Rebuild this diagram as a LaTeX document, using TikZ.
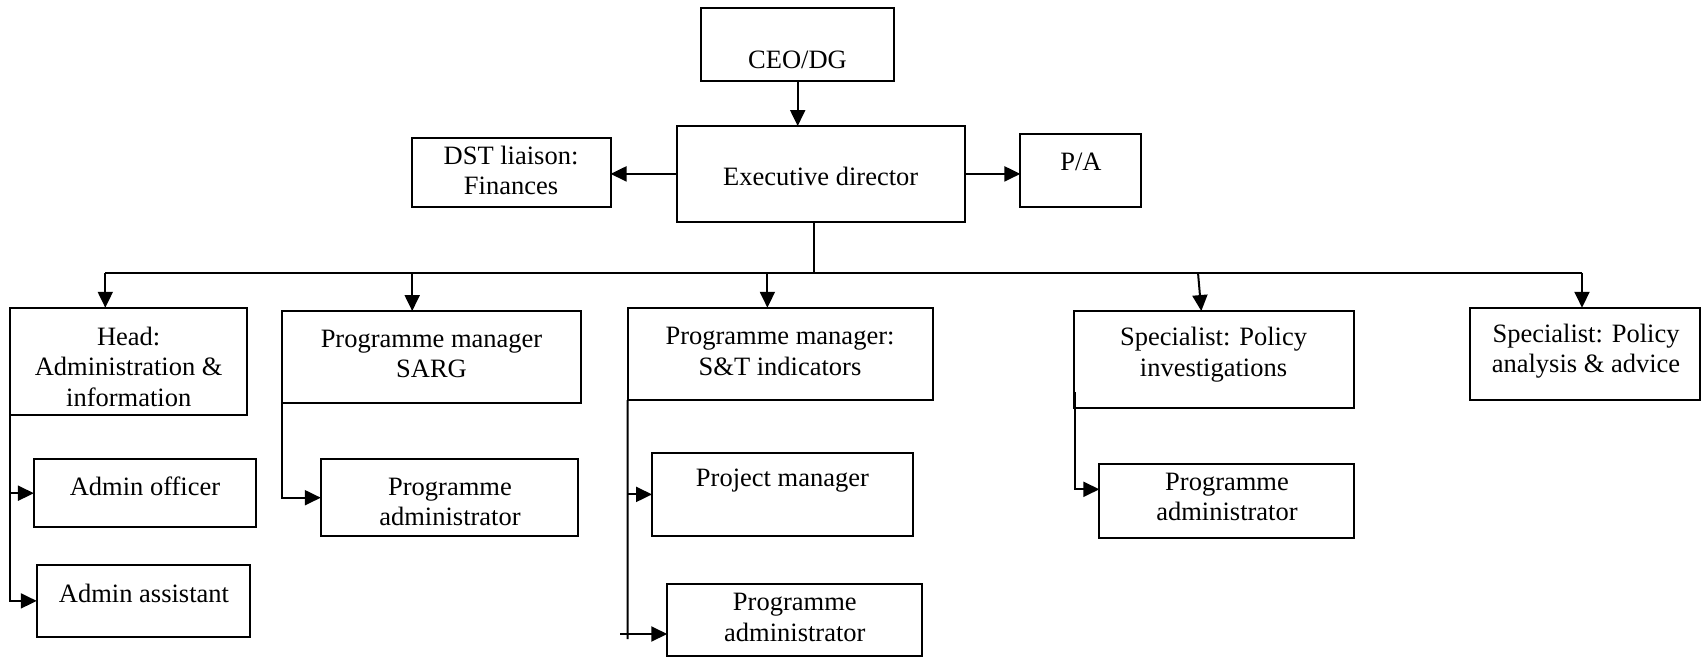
\documentclass[tikz,border=0pt]{standalone}
\usepackage{fontspec}
\setmainfont{Liberation Serif}
\usetikzlibrary{arrows.meta,calc}
\tikzset{
  box/.style={draw, line width=2pt, inner sep=0pt, outer sep=0pt},
  lbl/.style={align=center, inner sep=0pt, font=\fontsize{26.5}{30.5}\selectfont},
  conn/.style={line width=2pt},
  arr/.style={conn, -{Triangle[length=16pt,width=15pt]}}
}
\begin{document}
\begin{tikzpicture}[x=1pt,y=-1pt]
\useasboundingbox (0,0) rectangle (1702,658);
% boxes
\node[box, minimum width=192.8pt, minimum height=72.4pt] (ceo) at (797.7,44.5) {};
\node[box, minimum width=288.4pt, minimum height=95.7pt] (exec) at (820.7,173.9) {};
\node[box, minimum width=198.5pt, minimum height=69pt] (dst) at (511.3,172.2) {};
\node[box, minimum width=121pt, minimum height=72.7pt] (pa) at (1080.9,170.4) {};
\node[box, minimum width=237.1pt, minimum height=107.3pt] (head) at (128.8,361.4) {};
\node[box, minimum width=299.2pt, minimum height=91.7pt] (sarg) at (431.2,356.9) {};
\node[box, minimum width=305.1pt, minimum height=92.3pt] (st) at (780.2,353.9) {};
\node[box, minimum width=280.5pt, minimum height=97.3pt] (inv) at (1213.8,359.7) {};
\node[box, minimum width=230pt, minimum height=92.3pt] (ana) at (1585.3,353.9) {};
\node[box, minimum width=222pt, minimum height=68.3pt] (ao) at (144.9,493.2) {};
\node[box, minimum width=213.5pt, minimum height=71.7pt] (aa) at (143.5,600.9) {};
\node[box, minimum width=257.6pt, minimum height=76.7pt] (pas) at (449.6,497.7) {};
\node[box, minimum width=260.7pt, minimum height=83.3pt] (pm) at (782.4,494.4) {};
\node[box, minimum width=255.1pt, minimum height=72pt] (pa2) at (794.8,620.3) {};
\node[box, minimum width=254.7pt, minimum height=73.4pt] (pa3) at (1226.7,501) {};
% texts
\node[lbl] (tceo) at (797.5,60) {CEO/DG};
\node[lbl] (texec) at (820.7,176.7) {Executive director};
\node[lbl] (tdst) at (511,170.5) {DST liaison:\\Finances};
\node[lbl] (tpa) at (1081,162) {P/A};
\node[lbl] (thead) at (128.7,366.7) {Head:\\Administration \&\\information};
\node[lbl] (tsarg) at (431.5,354) {Programme manager\\SARG};
\node[lbl] (tst) at (780,351.3) {Programme manager:\\S\&T indicators};
\node[lbl] (tinv) at (1213.5,354.7) {Specialist: Policy\\investigations};
\node[lbl] (tana) at (1586,351.3) {Specialist: Policy\\analysis \& advice};
\node[lbl] (tao) at (145,486) {Admin officer};
\node[lbl] (taa) at (144,593.3) {Admin assistant};
\node[lbl] (tpas) at (450,501.7) {Programme\\administrator};
\node[lbl] (tpm) at (782.4,480.7) {Project manager};
\node[lbl] (tpa2) at (794.8,617.5) {Programme\\administrator};
\node[lbl] (tpa3) at (1227,497) {Programme\\administrator};
% top connectors
\draw[arr] (ceo.south) -- (ceo.south |- exec.north);
\draw[arr] (exec.west) -- (exec.west -| dst.east);
\draw[arr] (exec.east) -- (exec.east -| pa.west);
% bus
\coordinate (hub) at (813.7,272.7);
\coordinate (busL) at (105.3,272.7);
\coordinate (busR) at (1582,272.7);
\coordinate (d2) at (412.2,272.7);
\coordinate (d3) at (767.4,272.7);
\coordinate (d4) at (1198,272.7);
\draw[conn] (hub |- exec.south) -- (hub);
\draw[conn] (busL) -- (busR);
\draw[arr] (busL) -- (busL |- head.north);
\draw[arr] (d2) -- (d2 |- sarg.north);
\draw[arr] (d3) -- (d3 |- st.north);
\draw[arr] (d4) -- ($(d4 |- inv.north)+(3.3,0)$);
\draw[arr] (busR) -- (busR |- ana.north);
% head subtree
\draw[arr] (head.south west) |- (aa.west);
\draw[arr] (head.south west |- ao.west) -- (ao.west);
% sarg subtree
\draw[arr] (sarg.south west) |- (pas.west);
% s&t subtree
\coordinate (stEnd) at (627.6,639);
\draw[conn] (st.south west) -- (stEnd);
\draw[arr] (st.south west |- pm.west) -- (pm.west);
\coordinate (t3) at (620,634);
\draw[arr] (t3) -- (t3 -| pa2.west);
% inv subtree
\coordinate (iv) at (1075,392.3);
\coordinate (iv2) at (1075,489.3);
\draw[arr] (iv) -- (iv2) -- (iv2 -| pa3.west);
\end{tikzpicture}
\end{document}
